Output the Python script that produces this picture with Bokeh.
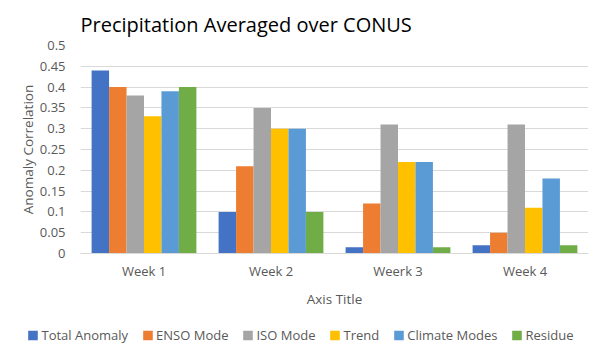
from bokeh.plotting import figure
from bokeh.models import ColumnDataSource, Legend, LegendItem, FixedTicker, Range1d
from bokeh.embed import file_html
from bokeh.resources import INLINE

weeks = ["Week 1", "Week 2", "Weerk 3", "Week 4"]
series_names = ["Total Anomaly", "ENSO Mode", "ISO Mode", "Trend", "Climate Modes", "Residue"]
total_anomaly = [0.44, 0.10, 0.015, 0.02]
enso_mode = [0.40, 0.21, 0.12, 0.05]
iso_mode = [0.38, 0.35, 0.31, 0.31]
trend = [0.33, 0.30, 0.22, 0.11]
climate_modes = [0.39, 0.30, 0.22, 0.18]
residue = [0.40, 0.10, 0.015, 0.02]
colors = ["#4472C4", "#ED7D31", "#A5A5A5", "#FFC000", "#5B9BD5", "#70AD47"]
y_ticks = [0, 0.05, 0.1, 0.15, 0.2, 0.25, 0.3, 0.35, 0.4, 0.45, 0.5]

all_series = [total_anomaly, enso_mode, iso_mode, trend, climate_modes, residue]

FONT = "Open Sans"
GRAY = "#595959"

p = figure(width=600, height=320, output_backend="svg", toolbar_location=None,
           x_range=Range1d(0, 4), y_range=Range1d(0, 0.5),
           min_border_left=80, min_border_right=12, min_border_top=0, min_border_bottom=67)

bw = 0.1375
sources = []
for i, (name, vals, col) in enumerate(zip(series_names, all_series, colors)):
    xs = [k + 0.5 + (i - 2.5) * bw for k in range(len(weeks))]
    src = ColumnDataSource(dict(x=xs, top=vals))
    sources.append(src)
    p.vbar(x="x", top="top", width=bw, bottom=0, source=src,
           fill_color=col, line_color=None)

p.title.text = "Precipitation Averaged over CONUS"
p.title.text_font = FONT
p.title.text_font_size = "20px"
p.title.text_font_style = "normal"
p.title.text_color = "#000000"
p.title.offset = 0
p.title.standoff = 16

p.xaxis.ticker = FixedTicker(ticks=[k + 0.5 for k in range(len(weeks))])
p.xaxis.major_label_overrides = {k + 0.5: w for k, w in enumerate(weeks)}
p.xaxis.major_tick_line_color = None
p.xaxis.minor_tick_line_color = None
p.xaxis.axis_line_color = "#D9D9D9"
p.xaxis.major_label_text_font = FONT
p.xaxis.major_label_text_font_size = "13px"
p.xaxis.major_label_text_color = GRAY
p.xaxis.major_label_standoff = 2
p.xaxis.axis_label = "Axis Title"
p.xaxis.axis_label_text_font = FONT
p.xaxis.axis_label_text_font_size = "13.5px"
p.xaxis.axis_label_text_font_style = "normal"
p.xaxis.axis_label_text_color = GRAY
p.xaxis.axis_label_standoff = 7

p.yaxis.ticker = FixedTicker(ticks=y_ticks)
p.yaxis.major_label_overrides = {t: ("%g" % t) for t in y_ticks}
p.yaxis.major_tick_line_color = None
p.yaxis.minor_tick_line_color = None
p.yaxis.axis_line_color = None
p.yaxis.major_label_text_font = FONT
p.yaxis.major_label_text_font_size = "13px"
p.yaxis.major_label_text_color = GRAY
p.yaxis.major_label_standoff = 9
p.yaxis.axis_label = "Anomaly Correlation"
p.yaxis.axis_label_text_font = FONT
p.yaxis.axis_label_text_font_size = "13.5px"
p.yaxis.axis_label_text_font_style = "normal"
p.yaxis.axis_label_text_color = GRAY
p.yaxis.axis_label_standoff = 0

p.xgrid.grid_line_color = None
p.ygrid.ticker = FixedTicker(ticks=y_ticks)
p.ygrid.grid_line_color = "#D9D9D9"
p.outline_line_color = None

# legend strip below the chart (separate root so its frame is not aligned)
lf = figure(width=600, height=30, output_backend="svg", toolbar_location=None,
            x_range=Range1d(0, 4), y_range=Range1d(10, 11),
            min_border=0, outline_line_color=None)
lf.axis.visible = False
lf.grid.visible = False
items = []
for name, col, src in zip(series_names, colors, sources):
    r = lf.vbar(x="x", top="top", width=bw, bottom=0, source=src,
                fill_color=col, line_color=None)
    items.append(LegendItem(label=name, renderers=[r]))
legend = Legend(items=items, orientation="horizontal", location="center",
                label_text_font=FONT, label_text_font_size="13px",
                label_text_color=GRAY, glyph_width=12, glyph_height=12,
                label_standoff=3, spacing=13, border_line_color=None,
                padding=4, margin=0, background_fill_alpha=0)
lf.add_layout(legend, "center")

open("out.html", "w").write(file_html([p, lf], INLINE))
